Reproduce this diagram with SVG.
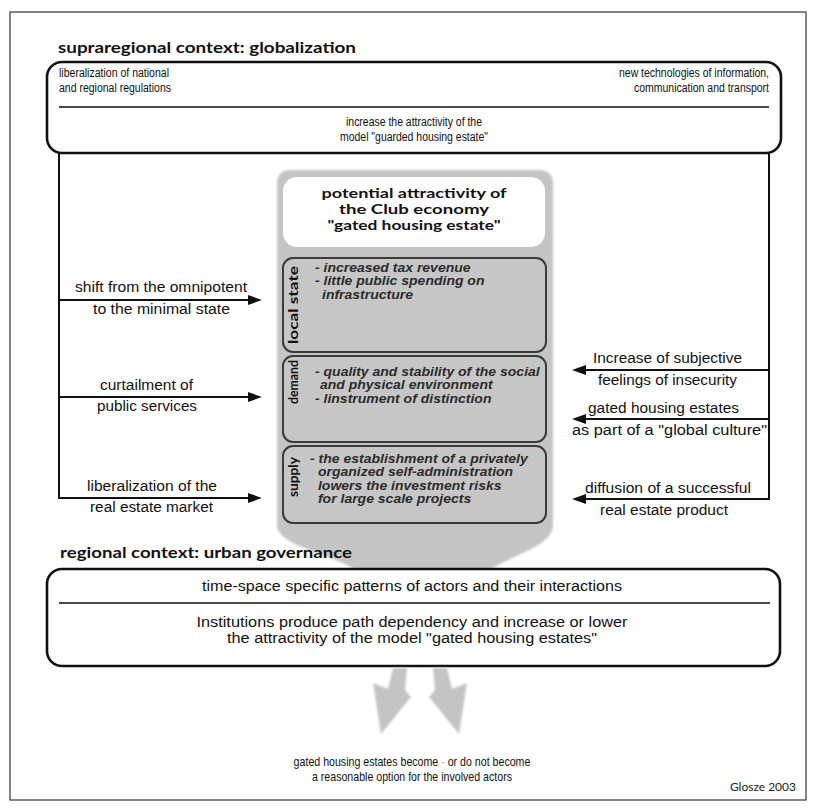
<svg xmlns="http://www.w3.org/2000/svg" width="813" height="808" viewBox="0 0 813 808">
<defs>
<style>
.frame{fill:none;stroke:#333;stroke-width:1.2}
.box{fill:#fff;stroke:#111;stroke-width:2.6}
.div{stroke:#111;stroke-width:1.5}
.head{font-family:Lato,"Liberation Sans",sans-serif;font-weight:700;font-size:16px;fill:#111}
.narrow{font-family:"Liberation Sans",Arial,sans-serif;font-size:12.5px;fill:#111}
.lab{font-family:"Liberation Sans",Arial,sans-serif;font-size:14px;fill:#111;text-anchor:middle}
.wide{font-family:"Liberation Sans",Arial,sans-serif;font-size:14px;fill:#111;text-anchor:middle}
.title{font-family:Lato,"Liberation Sans",sans-serif;font-weight:700;font-size:13px;fill:#111;text-anchor:middle}
.side{font-family:Lato,"Liberation Sans",sans-serif;font-weight:700;font-size:13px;fill:#111;text-anchor:middle}
.item{font-family:"Liberation Sans",Arial,sans-serif;font-weight:700;font-style:italic;font-size:12.5px;fill:#2b2b2b}
.inner{fill:#c6c6c6;stroke:#3a3a3a;stroke-width:2}
.conn{stroke:#111;stroke-width:2;fill:none}
.gray{fill:#c4c4c4}
.sig{font-family:Lato,"Liberation Sans",sans-serif;font-size:12px;fill:#222;text-anchor:end}
</style>
<marker id="ah" viewBox="0 0 14 10" refX="6" refY="5" markerWidth="14" markerHeight="10" markerUnits="userSpaceOnUse" orient="auto">
<path d="M0,0 L14,5 L0,10 Z" fill="#111"/>
</marker>
<filter id="soft" x="-5%" y="-5%" width="110%" height="110%">
<feGaussianBlur stdDeviation="1.2"/>
</filter>
</defs>
<rect width="813" height="808" fill="#fff"/>
<rect class="frame" x="10" y="12" width="796" height="788"/>

<g id="node-global">
<text class="head" x="58" y="53" textLength="298" lengthAdjust="spacingAndGlyphs">supraregional context: globalization</text>
<rect class="box" x="47" y="62" width="734" height="91" rx="15"/>
<line class="div" x1="59" y1="107" x2="769" y2="107"/>
<text class="narrow" x="59" y="77" textLength="110" lengthAdjust="spacingAndGlyphs">liberalization of national</text>
<text class="narrow" x="59" y="92" textLength="112" lengthAdjust="spacingAndGlyphs">and regional regulations</text>
<text class="narrow" x="769" y="77" text-anchor="end" textLength="150" lengthAdjust="spacingAndGlyphs">new technologies of information,</text>
<text class="narrow" x="769" y="92" text-anchor="end" textLength="135" lengthAdjust="spacingAndGlyphs">communication and transport</text>
<text class="narrow" x="414" y="126" text-anchor="middle" textLength="136" lengthAdjust="spacingAndGlyphs">increase the attractivity of the</text>
<text class="narrow" x="414" y="141" text-anchor="middle" textLength="148" lengthAdjust="spacingAndGlyphs">model "guarded housing estate"</text>
</g>

<g id="node-club">
<path class="gray" filter="url(#soft)" d="M291,170 H539 Q553,170 553,184 V525 C553,548 505,556 485,574 H360 C345,556 277,548 277,525 V184 Q277,170 291,170 Z"/>
<rect x="283" y="177" width="262" height="70" rx="14" fill="#fff"/>
<text class="title" x="414" y="198" textLength="185" lengthAdjust="spacingAndGlyphs">potential attractivity of</text>
<text class="title" x="414" y="214" textLength="150" lengthAdjust="spacingAndGlyphs">the Club economy</text>
<text class="title" x="414" y="230" textLength="173" lengthAdjust="spacingAndGlyphs">"gated housing estate"</text>
</g>

<g id="node-local-state">
<rect class="inner" x="283" y="258" width="263" height="94" rx="10"/>
<text class="side" transform="translate(298,305) rotate(-90)" textLength="78" lengthAdjust="spacingAndGlyphs">local state</text>
<g transform="scale(1.12,1)">
<text class="item" x="281.25" y="272">- increased tax revenue</text>
<text class="item" x="281.25" y="285.5">- little public spending on</text>
<text class="item" x="287.5" y="299">infrastructure</text>
</g>
</g>

<g id="node-demand">
<rect class="inner" x="283" y="356" width="263" height="86" rx="10"/>
<text class="side" transform="translate(298,382) rotate(-90)" textLength="44" lengthAdjust="spacingAndGlyphs">demand</text>
<g transform="scale(1.12,1)">
<text class="item" x="281.25" y="376">- quality and stability of the social</text>
<text class="item" x="285.7" y="389.5">and physical environment</text>
<text class="item" x="281.25" y="403">- linstrument of distinction</text>
</g>
</g>

<g id="node-supply">
<rect class="inner" x="283" y="446" width="263" height="77" rx="10"/>
<text class="side" transform="translate(298,477) rotate(-90)" textLength="40" lengthAdjust="spacingAndGlyphs">supply</text>
<g transform="scale(1.12,1)">
<text class="item" x="276.8" y="463">- the establishment of a privately</text>
<text class="item" x="283.9" y="476.5">organized self-administration</text>
<text class="item" x="283.9" y="490">lowers the investment risks</text>
<text class="item" x="283.9" y="503.5">for large scale projects</text>
</g>
</g>

<g id="node-regional">
<text class="head" x="60" y="558" textLength="292" lengthAdjust="spacingAndGlyphs">regional context: urban governance</text>
<rect class="box" x="47" y="569" width="733" height="97" rx="15"/>
<line class="div" x1="59" y1="603" x2="770" y2="603"/>
<text class="wide" x="412" y="591" textLength="420" lengthAdjust="spacingAndGlyphs">time-space specific patterns of actors and their interactions</text>
<text class="wide" x="412" y="627" textLength="431" lengthAdjust="spacingAndGlyphs">Institutions produce path dependency and increase or lower</text>
<text class="wide" x="412" y="643" textLength="370" lengthAdjust="spacingAndGlyphs">the attractivity of the model "gated housing estates"</text>
</g>

<g id="connectors">
<line class="conn" x1="59" y1="152" x2="59" y2="499"/>
<line class="conn" x1="769" y1="152" x2="769" y2="500"/>
<line class="conn" x1="58" y1="300" x2="254" y2="300" marker-end="url(#ah)"/>
<line class="conn" x1="58" y1="397" x2="254" y2="397" marker-end="url(#ah)"/>
<line class="conn" x1="58" y1="498" x2="254" y2="498" marker-end="url(#ah)"/>
<line class="conn" x1="770" y1="370" x2="580" y2="370" marker-end="url(#ah)"/>
<line class="conn" x1="770" y1="419" x2="580" y2="419" marker-end="url(#ah)"/>
<line class="conn" x1="770" y1="499" x2="580" y2="499" marker-end="url(#ah)"/>
<text class="lab" x="161" y="292" textLength="172" lengthAdjust="spacingAndGlyphs">shift from the omnipotent</text>
<text class="lab" x="161.5" y="314" textLength="137" lengthAdjust="spacingAndGlyphs">to the minimal state</text>
<text class="lab" x="146.5" y="390" textLength="93" lengthAdjust="spacingAndGlyphs">curtailment of</text>
<text class="lab" x="147" y="411" textLength="100" lengthAdjust="spacingAndGlyphs">public services</text>
<text class="lab" x="152" y="491" textLength="130" lengthAdjust="spacingAndGlyphs">liberalization of the</text>
<text class="lab" x="151.5" y="512" textLength="123" lengthAdjust="spacingAndGlyphs">real estate market</text>
<text class="lab" x="667.5" y="363" textLength="149" lengthAdjust="spacingAndGlyphs">Increase of subjective</text>
<text class="lab" x="667.5" y="385" textLength="139" lengthAdjust="spacingAndGlyphs">feelings of insecurity</text>
<text class="lab" x="663.5" y="413" textLength="151" lengthAdjust="spacingAndGlyphs">gated housing estates</text>
<text class="lab" x="669.5" y="435" textLength="195" lengthAdjust="spacingAndGlyphs">as part of a "global culture"</text>
<text class="lab" x="668" y="493" textLength="166" lengthAdjust="spacingAndGlyphs">diffusion of a successful</text>
<text class="lab" x="664" y="515" textLength="128" lengthAdjust="spacingAndGlyphs">real estate product</text>
</g>

<g id="outcome-arrows" filter="url(#soft)">
<path class="gray" d="M393,668 H407 L405,690 L411,697 L381,734 L373,683 L388,689 Z"/>
<path class="gray" d="M447,668 H433 L435,690 L429,697 L459,734 L467,683 L452,689 Z"/>
</g>

<g id="node-outcome">
<g transform="scale(0.85,1)">
<text class="narrow" style="font-size:12.5px" x="484.7" y="766" text-anchor="middle">gated housing estates become <tspan fill="#bbb">-</tspan> or do not become</text>
<text class="narrow" style="font-size:12.5px" x="484.7" y="781" text-anchor="middle">a reasonable option for the involved actors</text>
</g>
<text class="sig" x="796" y="791">Glosze 2003</text>
</g>
</svg>
